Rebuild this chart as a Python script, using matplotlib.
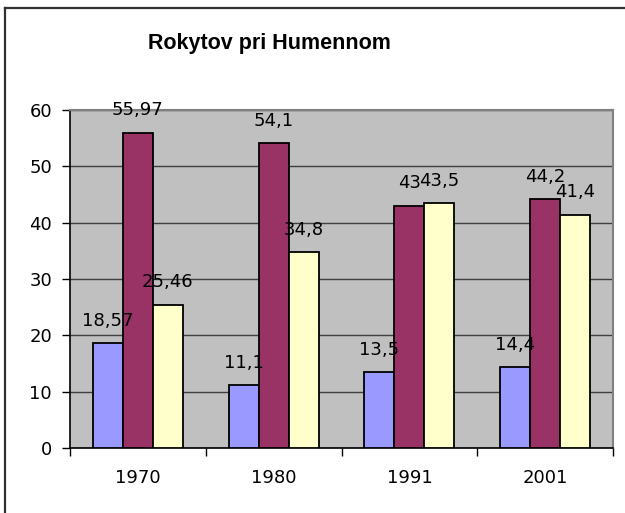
import numpy as np
import matplotlib.pyplot as plt
from matplotlib.lines import Line2D

plt.rcParams['font.family'] = ['DejaVu Sans']

years = ['1970', '1980', '1991', '2001']
series1 = [18.57, 11.1, 13.5, 14.4]
series2 = [55.97, 54.1, 43, 44.2]
series3 = [25.46, 34.8, 43.5, 41.4]
labels1 = ['18,57', '11,1', '13,5', '14,4']
labels2 = ['55,97', '54,1', '43', '44,2']
labels3 = ['25,46', '34,8', '43,5', '41,4']

fig = plt.figure(figsize=(6.25, 5.13), dpi=100)
ax = fig.add_axes([0.112, 0.1267, 0.869, 0.659])
ax.set_facecolor('#C0C0C0')

x = np.arange(len(years))
w = 0.221
colors = ['#9999FF', '#993366', '#FFFFCC']
for off, vals, labs, c in zip([-w, 0, w], [series1, series2, series3],
                              [labels1, labels2, labels3], colors):
    ax.bar(x + off, vals, w, color=c, edgecolor='black', linewidth=1.3, zorder=3)
    for xi, v, t in zip(x + off, vals, labs):
        ax.annotate(t, (xi, v), xytext=(0, 12.5), textcoords='offset points',
                    ha='center', va='baseline', fontsize=13, zorder=4,
                    annotation_clip=False)

ax.set_xlim(-0.5, 3.5)
ax.set_ylim(0, 60)
ax.set_yticks(range(0, 61, 10))
ax.yaxis.grid(True, color='#404040', linewidth=1, zorder=0)
ax.set_axisbelow(True)

ax.set_xticks(x)
ax.set_xticklabels(years)
ax.set_xticks(np.arange(-0.5, 3.6, 1), minor=True)
ax.tick_params(axis='x', which='major', length=0, pad=15, labelsize=13)
ax.tick_params(axis='x', which='minor', length=6, width=1, color='black')
ax.tick_params(axis='y', length=6, width=1, pad=7, labelsize=13)

for s in ['left', 'bottom']:
    ax.spines[s].set_color('black')
    ax.spines[s].set_linewidth(1.2)
for s in ['top', 'right']:
    ax.spines[s].set_color('#808080')
    ax.spines[s].set_linewidth(1.5)

fig.text(0.431, 0.916, 'Rokytov pri Humennom', ha='center', va='center',
         fontsize=15.5, fontweight='bold', family='Liberation Sans')

# chart frame (top and left edges only visible)
fig.add_artist(Line2D([0.008, 0.008], [0, 0.985], transform=fig.transFigure,
                      color='#303030', linewidth=1.6))
fig.add_artist(Line2D([0.008, 1], [0.985, 0.985], transform=fig.transFigure,
                      color='#303030', linewidth=1.6))

fig.savefig('out.png', dpi=100)
